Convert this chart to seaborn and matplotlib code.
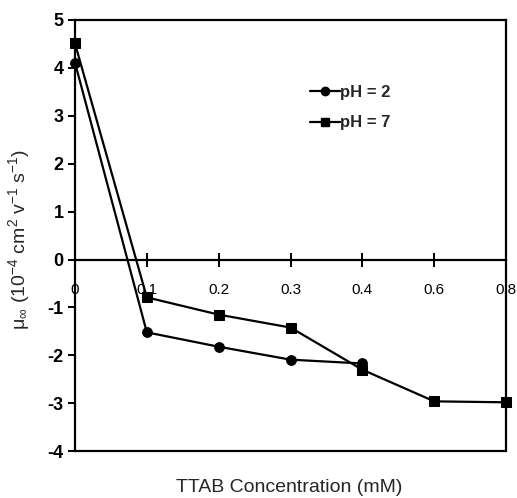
import matplotlib
matplotlib.use("Agg")
import matplotlib.pyplot as plt
import seaborn as sns
import pandas as pd
from matplotlib.lines import Line2D

categories = ["0", "0.1", "0.2", "0.3", "0.4", "0.6", "0.8"]
ph2_conc = ["0", "0.1", "0.2", "0.3", "0.4"]
ph2_vals = [4.11, -1.52, -1.82, -2.09, -2.17]
ph7_conc = ["0", "0.1", "0.2", "0.3", "0.4", "0.6", "0.8"]
ph7_vals = [4.51, -0.79, -1.15, -1.42, -2.30, -2.96, -2.98]
yticks = [-4, -3, -2, -1, 0, 1, 2, 3, 4, 5]

sns.set_theme(style="ticks")
plt.rcParams['font.family'] = ['Liberation Sans', 'DejaVu Sans']
plt.rcParams['mathtext.fontset'] = 'custom'
plt.rcParams['mathtext.rm'] = 'Liberation Sans'
plt.rcParams['mathtext.it'] = 'Liberation Sans:italic'

pos = {c: i for i, c in enumerate(categories)}
df2 = pd.DataFrame({"x": [pos[c] for c in ph2_conc], "y": ph2_vals})
df7 = pd.DataFrame({"x": [pos[c] for c in ph7_conc], "y": ph7_vals})

fig = plt.figure(figsize=(5.17, 4.98), dpi=100)
ax = fig.add_axes([0.145, 0.094, 0.834, 0.866])

sns.lineplot(data=df2, x="x", y="y", ax=ax, color="black", marker="o",
             markersize=7, linewidth=1.6, markeredgecolor="black", clip_on=False)
sns.lineplot(data=df7, x="x", y="y", ax=ax, color="black", marker="s",
             markersize=7, linewidth=1.6, markeredgecolor="black", clip_on=False)

ax.set_xlim(0, len(categories) - 1)
ax.set_ylim(-4, 5)
ax.set_yticks(yticks)
ax.set_yticklabels([str(t) for t in yticks], fontsize=13, fontweight='bold')
ax.set_xticks(range(len(categories)))
ax.set_xticklabels(categories, fontsize=14)

for s in ax.spines.values():
    s.set_linewidth(1.6)
    s.set_color("black")
ax.spines['bottom'].set_position(('data', 0))
ax.plot([0, 1], [0, 0], transform=ax.transAxes, color="black", lw=1.6, clip_on=False)

ax.tick_params(axis='x', direction='inout', length=10, width=1.4, pad=12, colors='black')
ax.tick_params(axis='y', direction='out', length=5, width=1.4, pad=3, colors='black')

ax.set_xlabel("")
ax.set_ylabel(r"μ$_\infty$ (10$^{-4}$ cm$^{2}$ v$^{-1}$ s$^{-1}$)", fontsize=14)
ax.yaxis.set_label_coords(-0.1, 0.49)
fig.text(0.56, 0.005, "TTAB Concentration (mM)", ha="center", va="bottom", fontsize=14)

handles = [Line2D([], [], color="black", marker="o", markersize=6, lw=1.6),
           Line2D([], [], color="black", marker="s", markersize=6, lw=1.6)]
leg = ax.legend(handles, ["pH = 2", "pH = 7"], loc="upper left",
                bbox_to_anchor=(0.51, 0.885), frameon=False, handlelength=1.8,
                handletextpad=0.0, labelspacing=0.95,
                prop={'size': 12, 'weight': 'bold'})

fig.savefig("out.png", dpi=100)
